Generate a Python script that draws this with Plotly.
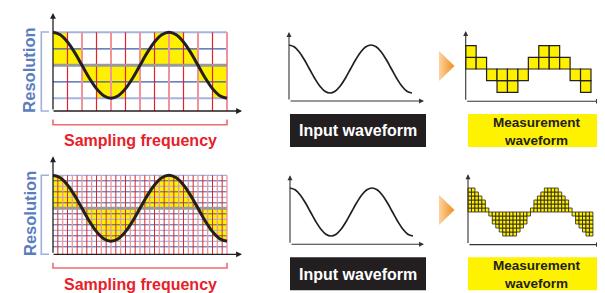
import plotly.graph_objects as go

# ---------------- data ----------------
coarse_levels = [2, 1, -1, -2, -2, -1, 1, 2, 2, 1, -1, -2]            # 12 samples, 2 levels per amplitude
fine_levels = [6, 6, 5, 4, 3, 1, -1, -3, -4, -5, -6, -6,
               -6, -6, -5, -4, -3, -1, 1, 3, 4, 5, 6, 6,
               6, 6, 5, 4, 3, 1, -1, -3, -4, -5, -6, -6]               # 36 samples, 6 levels per amplitude
coarse_rows = [2, 1, 0, -1, -2]
fine_rows = [6, 5, 4, 3, 2, 1, 0, -1, -2, -3, -4, -5, -6, -7]
wave_x = [0, 0.5, 1, 1.5, 2, 2.5, 3, 3.5, 4, 4.5, 5, 5.5, 6, 6.5, 7, 7.5, 8,
          8.5, 9, 9.5, 10, 10.5, 11, 11.5, 12]
wave_y = [1, .924, .707, .383, 0, -.383, -.707, -.924, -1, -.924, -.707, -.383, 0,
          .383, .707, .924, 1, .924, .707, .383, 0, -.383, -.707, -.924, -1]
coarse_amp, fine_amp, fine_factor = 2, 6, 3
label_resolution = "Resolution"
label_sampling = "Sampling frequency"
label_input = "Input waveform"
label_meas = "Measurement<br>waveform"

# ---------------- style ----------------
W, H = 605, 293
FONT = "Liberation Sans, Arial, sans-serif"
YELLOW = "#fff000"
RED, PINK = "#e4202a", "#f2939b"
BLUE, LBLUE = "#3a5aa8", "#a3b5dc"
GRAY = "#9a9a9a"
INK = "#231f20"

fig = go.Figure()


def ax_names(n):
    return ("x" if n == 1 else f"x{n}", "y" if n == 1 else f"y{n}")


def add_panel(n, origin, scale, box):
    ox, oy = origin
    sx, sy = scale
    bx0, by0, bx1, by1 = box
    xa, ya = ("xaxis", "yaxis") if n == 1 else (f"xaxis{n}", f"yaxis{n}")
    xr, yr = ax_names(n)
    fig.layout[xa] = dict(domain=[bx0 / W, bx1 / W], range=[(bx0 - ox) / sx, (bx1 - ox) / sx],
                          visible=False, fixedrange=True, anchor=yr)
    fig.layout[ya] = dict(domain=[1 - by1 / H, 1 - by0 / H], range=[(oy - by1) / sy, (oy - by0) / sy],
                          visible=False, fixedrange=True, anchor=xr)


# panels: origin pixel of (0,0), px per unit, pixel box
add_panel(1, (45, 57.3), (14.5, 16.5), (36, 0, 240, 108))
add_panel(2, (45, 200.3), (174 / 36, 5.5), (36, 143, 240, 251))
add_panel(3, (281, 61), (10.25, 12), (270, 15, 425, 100))
add_panel(4, (282, 204), (10.25, 12), (270, 158, 425, 243))
add_panel(5, (457.7, 61), (10.44, 11.7), (450, 15, 600, 100))
add_panel(6, (460, 204), (3.47, 4.0), (450, 158, 600, 243))
add_panel(7, (0, 0), (1, -1), (0, 0, 605, 293))


def line_trace(n, segs, color, width):
    xs, ys = [], []
    for (x0, y0, x1, y1) in segs:
        xs += [x0, x1, None]
        ys += [y0, y1, None]
    xr, yr = ax_names(n)
    fig.add_trace(go.Scatter(x=xs, y=ys, mode="lines", xaxis=xr, yaxis=yr,
                             line=dict(color=color, width=width), hoverinfo="skip", showlegend=False))


def quant_chart(n, levels, rows, floor, factor, amp, hw_light, hw_dark, vw_light, vw_dark):
    xr, yr = ax_names(n)
    ncol = len(levels)
    fig.add_trace(go.Bar(x=[i + 0.5 for i in range(ncol)], y=levels, base=0, width=1,
                         marker=dict(color=YELLOW, line=dict(width=0)), xaxis=xr, yaxis=yr,
                         hoverinfo="skip", showlegend=False))
    top = max(rows)
    light_h = [(0, r, ncol, r) for r in rows if r != 0 and r % 2 == 0]
    dark_h = [(0, r, ncol, r) for r in rows if r % 2 != 0]
    line_trace(n, light_h, LBLUE, hw_light)
    line_trace(n, dark_h, BLUE, hw_dark)
    light_v = [(c, top, c, floor) for c in range(1, ncol + 1) if c % 2 == 0]
    dark_v = [(c, top, c, floor) for c in range(1, ncol + 1) if c % 2 == 1]
    line_trace(n, light_v, PINK, vw_light)
    line_trace(n, dark_v, RED, vw_dark)
    line_trace(n, [(0, 0, ncol, 0)], GRAY, 3)
    fig.add_trace(go.Scatter(x=[v * factor for v in wave_x], y=[v * amp for v in wave_y],
                             mode="lines", line=dict(color=INK, width=3, shape="spline"),
                             xaxis=xr, yaxis=yr, hoverinfo="skip", showlegend=False))


quant_chart(1, coarse_levels, coarse_rows, -2.77, 1, coarse_amp, 2, 1.2, 2, 1.2)
quant_chart(2, fine_levels, fine_rows, -8.36, fine_factor, fine_amp, 1.3, 1, 1.3, 1)

# input waveforms
for n in (3, 4):
    xr, yr = ax_names(n)
    fig.add_trace(go.Scatter(x=wave_x, y=[v * coarse_amp for v in wave_y], mode="lines",
                             line=dict(color=INK, width=1.7, shape="spline"),
                             xaxis=xr, yaxis=yr, hoverinfo="skip", showlegend=False))


# measurement waveforms (stacked cells)
def cells(n, levels, lw):
    xr, yr = ax_names(n)
    xs, bases = [], []
    for i, v in enumerate(levels):
        ks = range(0, v) if v > 0 else range(v, 0)
        for k in ks:
            xs.append(i + 0.5)
            bases.append(k)
    fig.add_trace(go.Bar(x=xs, y=[1] * len(xs), base=bases, width=1,
                         marker=dict(color=YELLOW, line=dict(color=INK, width=lw)),
                         xaxis=xr, yaxis=yr, hoverinfo="skip", showlegend=False))


cells(5, coarse_levels, 1.2)
cells(6, fine_levels, 0.8)

# orange arrow triangles (overlay pixel axis)
for dy in (0, 144):
    fig.add_trace(go.Scatter(x=[431, 446.5, 431, 431], y=[43 + dy, 58 + dy, 73 + dy, 43 + dy],
                             mode="lines", fill="toself", line=dict(width=0, color="rgba(0,0,0,0)"),
                             fillgradient=dict(type="horizontal",
                                               colorscale=[[0, "#fcd3a0"], [1, "#f28c1c"]]),
                             xaxis="x7", yaxis="y7", hoverinfo="skip", showlegend=False))


def px(x):
    return x / W


def py(y):
    return 1 - y / H


shapes, annos = [], []


def arrow(tail, tip, color=INK, width=1.3):
    annos.append(dict(x=px(tip[0]), y=py(tip[1]), xref="paper", yref="paper",
                      ax=tail[0] - tip[0], ay=tail[1] - tip[1], axref="pixel", ayref="pixel",
                      text="", showarrow=True, arrowhead=2, arrowsize=0.9, arrowwidth=width,
                      arrowcolor=color, standoff=0, startstandoff=0))


def text(x, y, s, size, color, angle=0):
    annos.append(dict(x=px(x), y=py(y), xref="paper", yref="paper", text=f"<b>{s}</b>",
                      showarrow=False, textangle=angle, xanchor="center", yanchor="middle",
                      font=dict(family=FONT, size=size, color=color)))


def path(points, color, width):
    d = "M " + " L ".join(f"{px(a)} {py(b)}" for a, b in points)
    shapes.append(dict(type="path", path=d, xref="paper", yref="paper",
                       line=dict(color=color, width=width)))


def rect(x0, y0, x1, y1, color):
    shapes.append(dict(type="rect", xref="paper", yref="paper", x0=px(x0), x1=px(x1),
                       y0=py(y1), y1=py(y0), fillcolor=color, line=dict(width=0), layer="below"))


for dy in (0, 143.3):
    # left chart axes
    arrow((45, 103 + dy), (45, 5 + dy))
    arrow((44, 103 + dy), (234, 103 + dy))
    # brackets
    path([(41, 24 + dy), (33.3, 24 + dy), (33.3, 103 + dy), (41, 103 + dy)], "#9db1da", 1.6)
    path([(45, 111.5 + dy), (45, 116.7 + dy), (219, 116.7 + dy), (219, 111.5 + dy)], "#ee6b73", 1.6)
    text(21.4, 62.3 + dy, label_resolution, 16.5, "#5a7dbf", -90)
    text(132.5, 132.7 + dy, label_sampling, 16, "#e8202a")
    # input waveform axes and label
    arrow((281 + dy / 143.3, 93 + dy), (281 + dy / 143.3, 24 + dy), "#333333", 1.1)
    arrow((281 + dy / 143.3, 93 + dy), (416, 93 + dy), "#333333", 1.1)
    rect(282, 106 + dy, 418, 139 + dy, INK)
    text(350, 122.7 + dy, label_input, 16, "white")
    # measurement axes and label
    mx = 457.7 + 2.3 * dy / 143.3
    arrow((mx, 93.3 + dy), (mx, 23 + dy), "#333333", 1.1)
    arrow((mx, 93.3 + dy), (593, 93.3 + dy), "#333333", 1.1)
    rect(460, 106 + dy, 597, 139 + dy, "#fff200")
    text(528.5, 123 + dy, label_meas, 13.5, INK)

fig.update_layout(width=W, height=H, margin=dict(l=0, r=0, t=0, b=0),
                  paper_bgcolor="white", plot_bgcolor="rgba(0,0,0,0)",
                  barmode="overlay", showlegend=False, shapes=shapes, annotations=annos)

fig.write_html("out.html")
